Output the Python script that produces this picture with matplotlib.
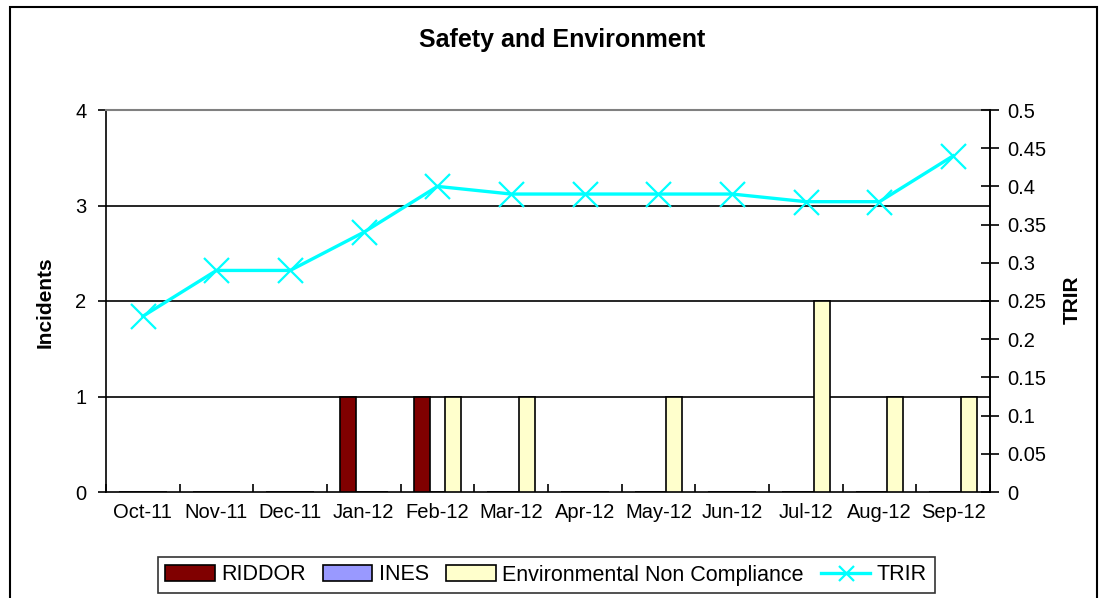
import numpy as np
import matplotlib.pyplot as plt
from matplotlib.patches import Rectangle
from matplotlib.ticker import MultipleLocator, FixedLocator

plt.rcParams['font.family'] = ['Liberation Sans', 'DejaVu Sans']

months = ["Oct-11", "Nov-11", "Dec-11", "Jan-12", "Feb-12", "Mar-12",
          "Apr-12", "May-12", "Jun-12", "Jul-12", "Aug-12", "Sep-12"]
riddor = [0, 0, 0, 1, 1, 0, 0, 0, 0, 0, 0, 0]
ines = [0, 0, 0, 0, 0, 0, 0, 0, 0, 0, 0, 0]
env_nc = [0, 0, 0, 0, 1, 1, 0, 1, 0, 2, 1, 1]
trir = [0.23, 0.29, 0.29, 0.34, 0.40, 0.39, 0.39, 0.39, 0.39, 0.38, 0.38, 0.44]
trir_ticks = [0, 0.05, 0.1, 0.15, 0.2, 0.25, 0.3, 0.35, 0.4, 0.45, 0.5]
trir_tick_labels = ["0", "0.05", "0.1", "0.15", "0.2", "0.25", "0.3",
                    "0.35", "0.4", "0.45", "0.5"]

W, H = 1106, 598
fig = plt.figure(figsize=(W / 100, H / 100), dpi=100)
ax = fig.add_axes([106 / W, 106 / H, 884 / W, 382 / H])
ax2 = ax.twinx()

x = np.arange(len(months))
bw = 0.217
series = [(riddor, "#800000", "RIDDOR"),
          (ines, "#9999FF", "INES"),
          (env_nc, "#FFFFCC", "Environmental Non Compliance")]
handles = []
for k, (vals, col, lab) in enumerate(series):
    h = ax.bar(x + (k - 1) * bw, vals, bw, color=col, edgecolor="black",
               linewidth=1.2, label=lab, zorder=3)
    handles.append(h)

# gridlines at the left major ticks
for yv in [1, 2, 3]:
    ax.axhline(yv, color="black", linewidth=1.2, zorder=1)

ax.set_xlim(-0.5, len(months) - 0.5)
ax.set_ylim(0, 4)
ax.yaxis.set_major_locator(MultipleLocator(1))
ax.set_xticks(x)
ax.set_xticklabels(months, fontsize=14.5)
ax.xaxis.set_minor_locator(FixedLocator(np.arange(-0.5, len(months), 1.0)))
ax.tick_params(axis="x", which="major", length=0, pad=8)
ax.tick_params(axis="x", which="minor", direction="in", length=6, width=1.2)
ax.tick_params(axis="y", direction="out", length=6, width=1.2, labelsize=14.5, pad=8)

for s in ["left", "bottom", "right"]:
    ax.spines[s].set_linewidth(1.2)
ax.spines["top"].set_color("#808080")
ax.spines["top"].set_linewidth(1.5)

(ln,) = ax2.plot(x, trir, color="#00FFFF", linewidth=2.4, marker="x",
                 markersize=18, markeredgewidth=1.6, label="TRIR", zorder=4)
handles.append(ln)
ax2.set_ylim(0, 0.5)
ax2.set_yticks(trir_ticks)
ax2.set_yticklabels(trir_tick_labels)
ax2.tick_params(axis="y", direction="inout", length=13, width=1.2, labelsize=14.5, pad=6)
ax2.spines["right"].set_linewidth(1.2)
ax2.spines["top"].set_visible(False)
ax2.spines["left"].set_visible(False)
ax2.spines["bottom"].set_visible(False)

fig.text(562 / W, 1 - 40 / H, "Safety and Environment", fontsize=18,
         fontweight="bold", ha="center", va="center")
fig.text(45 / W, 1 - 302 / H, "Incidents", fontsize=15, fontweight="bold",
         rotation=90, ha="center", va="center")
fig.text(1072 / W, 1 - 300 / H, "TRIR", fontsize=15, fontweight="bold",
         rotation=90, ha="center", va="center")

leg = fig.legend(handles=handles, labels=[h.get_label() for h in handles],
                 loc="center", bbox_to_anchor=(546 / W, 1 - 575 / H), ncol=4,
                 fontsize=15.5, frameon=True, fancybox=False, edgecolor="black",
                 handlelength=2.3, handletextpad=0.3, columnspacing=0.8,
                 borderpad=0.35, markerscale=0.6)
leg.get_frame().set_linewidth(1.2)

# outer chart border
fig.patches.append(Rectangle((10 / W, -0.05), 1087 / W, 1.05 - 7 / H,
                             transform=fig.transFigure, fill=False,
                             edgecolor="black", linewidth=1.5))

plt.savefig("out.png", dpi=100)
